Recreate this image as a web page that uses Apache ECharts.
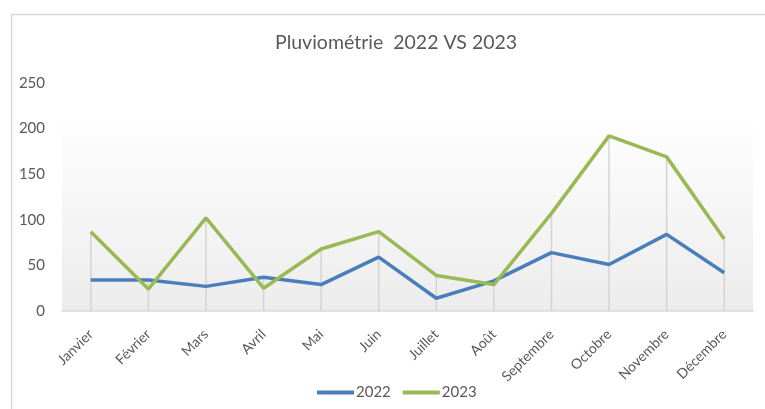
<!DOCTYPE html>
<html><head><meta charset="utf-8">
<script src="https://cdn.jsdelivr.net/npm/echarts@6/dist/echarts.min.js"></script>
<style>html,body{margin:0;padding:0;background:#fff}#c{width:765px;height:409px}</style>
</head><body><div id="c"></div>
<script>
const months = ['Janvier','Février','Mars','Avril','Mai','Juin','Juillet','Août','Septembre','Octobre','Novembre','Décembre'];
const rain2022 = [34, 34, 27, 37, 29, 59, 14, 33, 64, 51, 84, 42];
const rain2023 = [87, 24, 102, 25, 68, 87, 39, 29, 107, 192, 169, 79];
const yTicks = [0, 50, 100, 150, 200, 250];

const font = 'Lato, "Open Sans", sans-serif';
const chart = echarts.init(document.getElementById('c'), null, {renderer: 'canvas'});
const dropData = months.map((m, i) => [i, Math.max(rain2022[i], rain2023[i])]);

chart.setOption({
  backgroundColor: '#ffffff',
  animation: false,
  title: {
    text: 'Pluviométrie  2022 VS 2023',
    left: 270, top: 28,
    textStyle: {color: '#595959', fontSize: 19.5, fontWeight: 'normal', fontFamily: font}
  },
  graphic: [{
    type: 'rect', left: 9, top: 12, shape: {width: 800, height: 420}, silent: true, z: -10,
    style: {fill: 'none', stroke: '#d9d9d9', lineWidth: 1.5}
  }],
  legend: {
    top: 380, left: 312,
    itemWidth: 37, itemHeight: 4, itemGap: 12,
    icon: 'rect',
    textStyle: {color: '#595959', fontSize: 15, fontFamily: font, padding: [0, 0, 0, -3]},
    data: ['2022', '2023']
  },
  grid: {
    left: 62, right: 12, top: 83, bottom: 98,
    show: true, borderWidth: 0,
    backgroundColor: {type: 'linear', x: 0, y: 0, x2: 0, y2: 1, colorStops: [
      {offset: 0, color: '#ffffff'}, {offset: 0.12, color: '#ffffff'}, {offset: 1, color: '#ececec'}]}
  },
  xAxis: {
    type: 'category', data: months, boundaryGap: true,
    axisLine: {lineStyle: {color: '#d9d9d9', width: 1.5}},
    axisTick: {show: false},
    axisLabel: {rotate: 45, color: '#595959', fontSize: 14, fontFamily: font, margin: 21, interval: 0},
    splitLine: {show: false}
  },
  yAxis: {
    type: 'value', min: yTicks[0], max: yTicks[yTicks.length - 1], interval: 50,
    axisLine: {show: false}, axisTick: {show: false},
    splitLine: {show: false},
    axisLabel: {color: '#595959', fontSize: 15, fontFamily: font, margin: 17}
  },
  series: [
    {
      type: 'custom', name: 'drop', silent: true, z: 1,
      data: dropData,
      renderItem: function (params, api) {
        const top = api.coord([api.value(0), api.value(1)]);
        const bot = api.coord([api.value(0), 0]);
        return {type: 'line', shape: {x1: top[0], y1: top[1], x2: bot[0], y2: bot[1]},
          style: {stroke: '#d4d4d4', lineWidth: 1.5}};
      }
    },
    {
      name: '2022', type: 'line', data: rain2022, z: 3,
      symbol: 'none', lineStyle: {color: '#4a7ebb', width: 3.5}, itemStyle: {color: '#4a7ebb'}
    },
    {
      name: '2023', type: 'line', data: rain2023, z: 4,
      symbol: 'none', lineStyle: {color: '#98b954', width: 3.5}, itemStyle: {color: '#98b954'}
    }
  ]
});
</script></body></html>
